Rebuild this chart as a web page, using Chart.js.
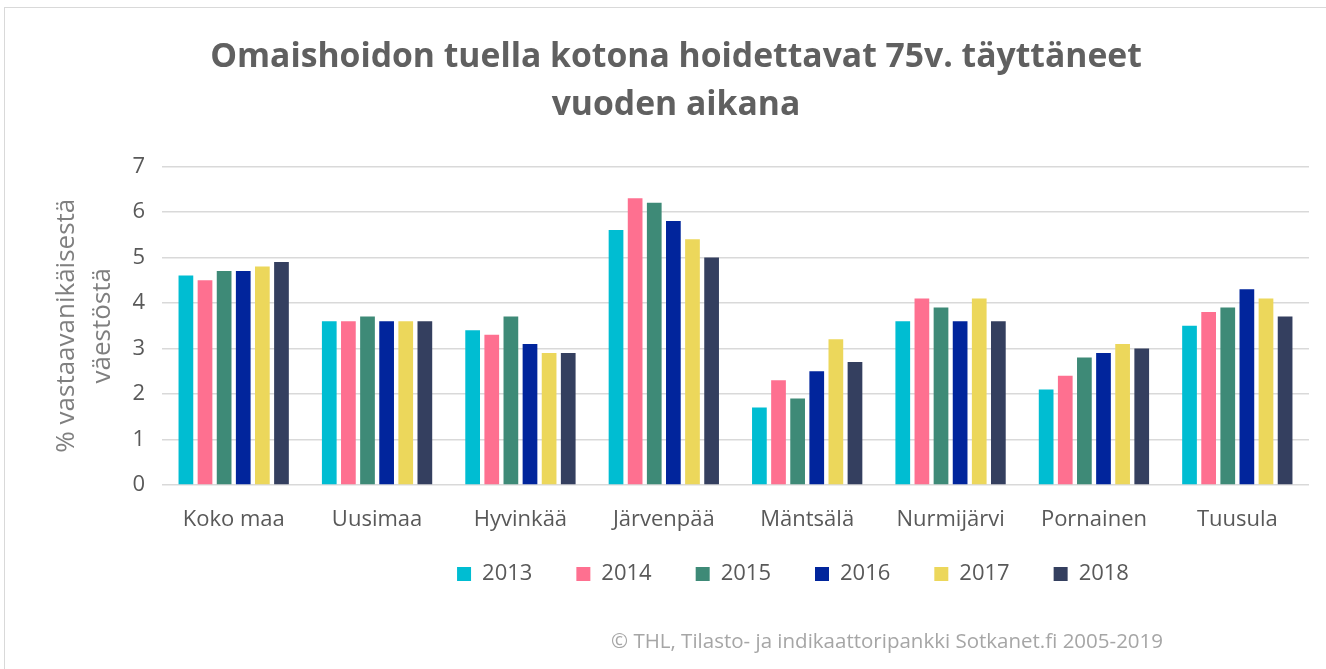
<!DOCTYPE html>
<html lang="fi">
<head>
<meta charset="utf-8">
<title>Omaishoidon tuella kotona hoidettavat 75v. täyttäneet</title>
<script src="https://cdn.jsdelivr.net/npm/chart.js@4"></script>
<style>
    html, body { margin: 0; padding: 0; background: #ffffff; }
    body { width: 1326px; height: 669px; position: relative; overflow: hidden; }
    #kehys {
        position: absolute; left: 4px; top: 7px; width: 1322px; height: 662px;
        border-top: 1px solid #d9d9d9; border-left: 1px solid #d9d9d9;
    }
    #lahde {
        position: absolute; left: 611px; top: 626px;
        font-family: "Open Sans", sans-serif; font-size: 20.5px; color: #a6a6a6;
        white-space: nowrap;
    }
</style>
</head>
<body>
<div id="kehys"><canvas id="grafiikka" width="1321" height="661"></canvas></div>
<div id="lahde">© THL, Tilasto- ja indikaattoripankki Sotkanet.fi 2005-2019</div>
<script>
// ==================== DATA ====================
const alueet = ['Koko maa', 'Uusimaa', 'Hyvinkää', 'Järvenpää', 'Mäntsälä', 'Nurmijärvi', 'Pornainen', 'Tuusula'];
const vuodet = ['2013', '2014', '2015', '2016', '2017', '2018'];

const arvot2013 = [4.6, 3.6, 3.4, 5.6, 1.7, 3.6, 2.1, 3.5];
const arvot2014 = [4.5, 3.6, 3.3, 6.3, 2.3, 4.1, 2.4, 3.8];
const arvot2015 = [4.7, 3.7, 3.7, 6.2, 1.9, 3.9, 2.8, 3.9];
const arvot2016 = [4.7, 3.6, 3.1, 5.8, 2.5, 3.6, 2.9, 4.3];
const arvot2017 = [4.8, 3.6, 2.9, 5.4, 3.2, 4.1, 3.1, 4.1];
const arvot2018 = [4.9, 3.6, 2.9, 5.0, 2.7, 3.6, 3.0, 3.7];

const yTikit = [0, 1, 2, 3, 4, 5, 6, 7];

const varit = ['#00bdd2', '#fe7090', '#3e8a77', '#01259c', '#ecd75b', '#343f5f'];
const sarjat = [arvot2013, arvot2014, arvot2015, arvot2016, arvot2017, arvot2018];

const FONTTI = '"Open Sans", "Liberation Sans", sans-serif';
const HARMAA = '#595959';

// siirtää otsikkoa ja selitettä kuten alkuperäisessä
const siirtoPlugin = {
    id: 'siirto',
    afterLayout(chart) {
        const o = chart.options.plugins.siirto;
        if (chart.titleBlock) {
            chart.titleBlock.left += o.otsikko;
            chart.titleBlock.right += o.otsikko;
        }
        if (chart.legend) {
            chart.legend.left += o.selite;
            chart.legend.right += o.selite;
            chart.legend.top += o.seliteY;
            chart.legend.bottom += o.seliteY;
        }
    }
};

function piirraKaavio() {
    const ctx = document.getElementById('grafiikka');

    const datasets = vuodet.map((vuosi, i) => ({
        label: vuosi,
        data: sarjat[i],
        backgroundColor: varit[i],
        borderWidth: 0,
        categoryPercentage: 0.8,
        barPercentage: 0.77
    }));

    new Chart(ctx, {
        type: 'bar',
        data: {
            labels: alueet,
            datasets: datasets
        },
        plugins: [siirtoPlugin],
        options: {
            responsive: false,
            animation: false,
            layout: {
                padding: { left: 0, right: 17, top: 0, bottom: 52 }
            },
            plugins: {
                siirto: { otsikko: 19, selite: 136, seliteY: -22 },
                title: {
                    display: true,
                    text: ['Omaishoidon tuella kotona hoidettavat 75v. täyttäneet', 'vuoden aikana'],
                    color: '#606060',
                    font: { family: FONTTI, size: 33.7, weight: 'bold', lineHeight: 1.43 },
                    padding: { top: 25, bottom: 37 }
                },
                legend: {
                    display: true,
                    position: 'bottom',
                    labels: {
                        color: HARMAA,
                        font: { family: FONTTI, size: 22 },
                        boxWidth: 14,
                        boxHeight: 14,
                        padding: 44
                    }
                },
                tooltip: { enabled: false }
            },
            scales: {
                x: {
                    grid: { display: false },
                    border: { display: false },
                    ticks: {
                        color: HARMAA,
                        font: { family: FONTTI, size: 22 },
                        padding: 14,
                        maxRotation: 0
                    },
                    afterFit: function(scale) {
                        scale.height = 56;
                    }
                },
                y: {
                    min: 0,
                    max: 7,
                    afterBuildTicks: function(scale) {
                        scale.ticks = yTikit.map(v => ({ value: v }));
                    },
                    grid: {
                        color: '#d9d9d9',
                        lineWidth: 1.5,
                        drawTicks: false
                    },
                    border: { display: false },
                    ticks: {
                        color: HARMAA,
                        font: { family: FONTTI, size: 22 },
                        padding: 17
                    },
                    title: {
                        display: true,
                        text: ['% vastaavanikäisestä', 'väestöstä'],
                        color: '#7f7f7f',
                        font: { family: FONTTI, size: 26, lineHeight: 1.385 },
                        padding: { top: 44, bottom: 0 }
                    },
                    afterFit: function(scale) {
                        scale.width = 157;
                    }
                }
            }
        }
    });
}

piirraKaavio();
</script>
</body>
</html>
